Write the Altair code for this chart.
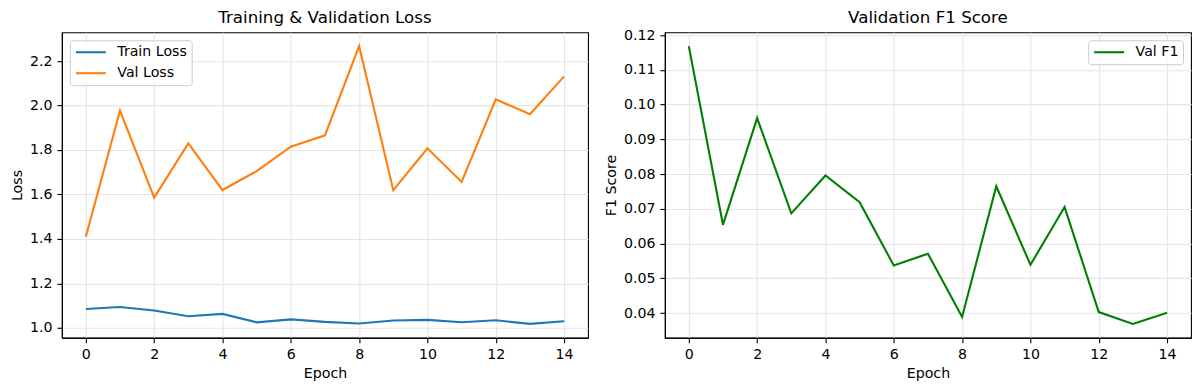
import altair as alt
import pandas as pd

epochs = list(range(15))
train_loss = [1.085, 1.094, 1.078, 1.052, 1.063, 1.025, 1.038, 1.027, 1.020, 1.033,
              1.036, 1.025, 1.034, 1.018, 1.030]
val_loss = [1.410, 1.977, 1.586, 1.830, 1.620, 1.705, 1.815, 1.866, 2.267, 1.619,
            1.808, 1.656, 2.028, 1.961, 2.131]
val_f1 = [0.1168, 0.0654, 0.0961, 0.0687, 0.0796, 0.0719, 0.0537, 0.0571, 0.0389,
          0.0765, 0.0539, 0.0705, 0.0403, 0.0369, 0.0401]

loss_series = ["Train Loss", "Val Loss"]
loss_colors = ["#1f77b4", "#ff7f0e"]
f1_series = ["Val F1"]
f1_colors = ["#008000"]

x_ticks = [0, 2, 4, 6, 8, 10, 12, 14]
loss_ticks = [1.0, 1.2, 1.4, 1.6, 1.8, 2.0, 2.2]
f1_ticks = [0.04, 0.05, 0.06, 0.07, 0.08, 0.09, 0.10, 0.11, 0.12]

FONT = "DejaVu Sans"
W, H = 527, 306


def padded(vals, frac=0.05):
    lo, hi = min(vals), max(vals)
    d = (hi - lo) * frac
    return [lo - d, hi + d]


loss_df = pd.DataFrame({
    "Epoch": epochs * 2,
    "value": train_loss + val_loss,
    "series": [loss_series[0]] * len(epochs) + [loss_series[1]] * len(epochs),
})
f1_df = pd.DataFrame({"Epoch": epochs, "value": val_f1, "series": f1_series * len(epochs)})

x_dom = [-0.7, 14.7]


def legend(orient):
    return alt.Legend(
        title=None, orient=orient, offset=8, padding=4.5,
        fillColor="rgba(255,255,255,0.8)", strokeColor="#cccccc", cornerRadius=3,
        symbolType="M-1,0H4", symbolSize=144, symbolStrokeWidth=2.1,
        labelFont=FONT, labelFontSize=14.2, labelColor="black",
        rowPadding=6, labelOffset=28, labelLimit=300,
    )


x_enc = alt.X("Epoch:Q", title="Epoch",
              scale=alt.Scale(domain=x_dom, nice=False, zero=False),
              axis=alt.Axis(values=x_ticks, format="d"))

left = alt.Chart(loss_df).mark_line(strokeWidth=2.1).encode(
    x=x_enc,
    y=alt.Y("value:Q", title="Loss",
            scale=alt.Scale(domain=padded(train_loss + val_loss), nice=False, zero=False),
            axis=alt.Axis(values=loss_ticks, format=".1f")),
    color=alt.Color("series:N", scale=alt.Scale(domain=loss_series, range=loss_colors),
                    legend=legend("top-left")),
).properties(
    width=W, height=H,
    title=alt.TitleParams("Training & Validation Loss", fontSize=16.7, font=FONT,
                          fontWeight="normal", color="black", offset=6),
)

right = alt.Chart(f1_df).mark_line(strokeWidth=2.1).encode(
    x=x_enc,
    y=alt.Y("value:Q", title="F1 Score",
            scale=alt.Scale(domain=padded(val_f1), nice=False, zero=False),
            axis=alt.Axis(values=f1_ticks, format=".2f")),
    color=alt.Color("series:N", scale=alt.Scale(domain=f1_series, range=f1_colors),
                    legend=legend("top-right")),
).properties(
    width=W, height=H,
    title=alt.TitleParams("Validation F1 Score", fontSize=16.7, font=FONT,
                          fontWeight="normal", color="black", offset=1.4),
)

chart = alt.hconcat(left, right, spacing=14).resolve_scale(
    color="independent"
).resolve_legend(color="independent").properties(
    padding={"left": 1, "top": 0, "right": 0, "bottom": 0}
).configure_view(
    stroke="black", strokeWidth=1.1
).configure_axis(
    labelFont=FONT, labelFontSize=14.2, labelColor="black",
    titleFont=FONT, titleFontSize=14.2, titleColor="black", titleFontWeight="normal",
    domainColor="black", domainWidth=1.1,
    tickColor="black", tickSize=5, tickWidth=1.1,
    labelPadding=5, titlePadding=5,
    gridColor="#e5e5e5", gridWidth=1.1,
)

chart.save("out.html", embed_options={"renderer": "svg", "actions": False})
